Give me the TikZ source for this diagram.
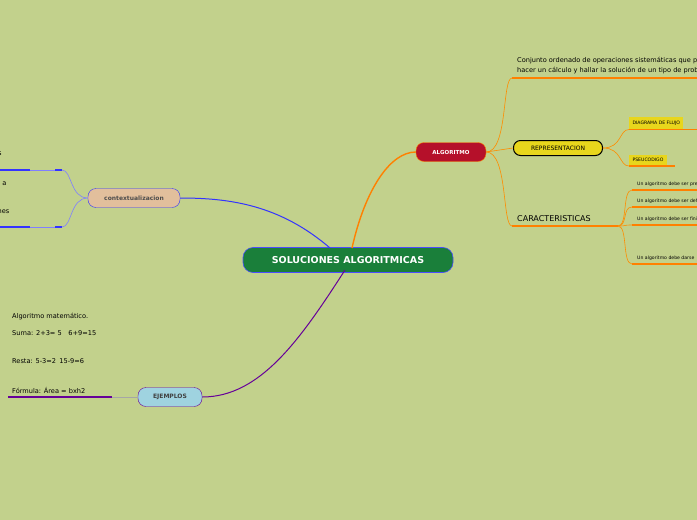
\documentclass[tikz,border=0pt]{standalone}
\usepackage{fontspec}
\setmainfont{DejaVu Sans}
\begin{document}
\begin{tikzpicture}[x=1pt,y=-1pt,
 tx/.style={font=\fontsize{6.6}{7}\selectfont,anchor=west,inner sep=0},
 sm/.style={font=\fontsize{4.6}{5}\selectfont,anchor=west,inner sep=0},
 or/.style={draw=orange!90!yellow,line width=0.6pt},
 orthick/.style={draw=orange,line width=1.2pt}]
\definecolor{bg}{HTML}{C2D18C}
\fill[bg] (0,0) rectangle (697,520);
\useasboundingbox (0,0) rectangle (697,520);
\begin{scope}
\clip (0,0) rectangle (697,520);
% central
\node[draw=blue!70,fill={rgb,255:red,26;green,127;blue,58},text=white,rounded corners=10pt,minimum width=210,minimum height=25,font=\bfseries\fontsize{9.5}{10}\selectfont,line width=0.6pt] (c) at (348,260) {SOLUCIONES ALGORITMICAS};
% algoritmo
\node[fill={rgb,255:red,181;green,16;blue,42},draw=orange,text=white,rounded corners=8pt,minimum width=70,minimum height=19,font=\bfseries\fontsize{5.5}{6}\selectfont] (alg) at (451,152) {ALGORITMO};
\node[fill={rgb,255:red,232;green,214;blue,28},draw=black,line width=1pt,rounded corners=7pt,minimum width=89,minimum height=15,font=\fontsize{6}{6}\selectfont] (rep) at (558,148) {REPRESENTACION};
\node[fill={rgb,255:red,232;green,214;blue,28},font=\fontsize{4.6}{5}\selectfont,anchor=west,minimum height=13] (df) at (629,123) {DIAGRAMA DE FLUJO};
\node[fill={rgb,255:red,232;green,214;blue,28},font=\fontsize{4.6}{5}\selectfont,anchor=west,minimum height=11] (ps) at (629,160) {PSEUCODIGO};
\draw[orthick] (629,129.5) -- (697,129.5);
\draw[orthick] (629,166) -- (675,166);
\node[tx] (conj) at (517,61) {Conjunto ordenado de operaciones sistemáticas que permite};
\node[tx] at (517,71) {hacer un cálculo y hallar la solución de un tipo de problemas};
\coordinate (cl) at (512,78);
\draw[orthick] (cl) -- (697,78);
\node[font=\fontsize{8}{9}\selectfont,anchor=west,inner sep=0] (car) at (517,219) {CARACTERISTICAS};
\coordinate (carl) at (512,226);
\draw[orthick] (carl) -- (618,226);
\foreach \y/\t in {184/Un algoritmo debe ser preciso,201/Un algoritmo debe ser definido,219/Un algoritmo debe ser finito,258/Un algoritmo debe darse}{
 \node[sm] at (637,\y) {\t};
 \draw[orthick] (632,\y+6) -- (697,\y+6);
 \draw[or] (618,226) .. controls (628,226) and (622,\y+6) .. (632,\y+6);
}
\draw[or] (rep.east) .. controls (622,148) and (619,129.5) .. (629,129.5);
\draw[or] (rep.east) .. controls (622,148) and (619,166) .. (629,166);
\draw[or] (alg.east) .. controls (508,152) and (502,78) .. (cl);
\draw[or] (alg.east) -- (rep.west);
\draw[or] (alg.east) .. controls (508,152) and (502,226) .. (carl);
\draw[draw=orange,line width=1.4pt] (352,248) .. controls (365,190) and (390,152) .. (alg.west);
% contextualizacion
\node[fill={rgb,255:red,226;green,191;blue,156},draw=blue!80,rounded corners=8pt,minimum width=92,minimum height=19,font=\bfseries\fontsize{6}{6}\selectfont,text=black!70] (ctx) at (134,198) {contextualizacion};
\draw[draw=blue!80,line width=1pt] (330,248) .. controls (280,205) and (230,198) .. (ctx.east);
\node[tx] at (-2,154) {s};
\node[tx] at (-4,184) {e a};
\node[tx] at (-12,211) {ciones};
\draw[draw=blue!80,line width=1.2pt] (0,170) -- (30,170) (55,170) -- (62,170);
\draw[draw=blue!80,line width=1.2pt] (0,227) -- (30,227) (55,227) -- (62,227);
\draw[draw=blue!50,line width=0.6pt] (30,170) -- (55,170) (30,227) -- (55,227);
\draw[draw=blue!50,line width=0.6pt] (ctx.west) .. controls (70,198) and (72,170) .. (62,170);
\draw[draw=blue!50,line width=0.6pt] (ctx.west) .. controls (70,198) and (72,227) .. (62,227);
% ejemplos
\node[fill={rgb,255:red,159;green,211;blue,224},draw=violet!80!blue,rounded corners=8pt,minimum width=64,minimum height=19,font=\bfseries\fontsize{6}{6}\selectfont,text=black!75] (ej) at (170,397) {EJEMPLOS};
\draw[draw=violet!80!blue,line width=1pt] (345,270) .. controls (300,340) and (260,397) .. (ej.east);
\node[tx] at (12,317) {Algoritmo matemático.};
\node[tx] at (12,333) {Suma: 2+3= 5\quad 6+9=15};
\node[tx] at (12,361) {Resta: 5-3=2\enspace 15-9=6};
\node[tx] at (12,390) {Fórmula: Área = bxh2};
\coordinate (exl) at (112,397);
\draw[draw=violet!80!blue,line width=1.2pt] (8,397) -- (exl);
\draw[draw=gray!70,line width=0.6pt] (exl) -- (ej.west);
\end{scope}
\end{tikzpicture}
\end{document}
